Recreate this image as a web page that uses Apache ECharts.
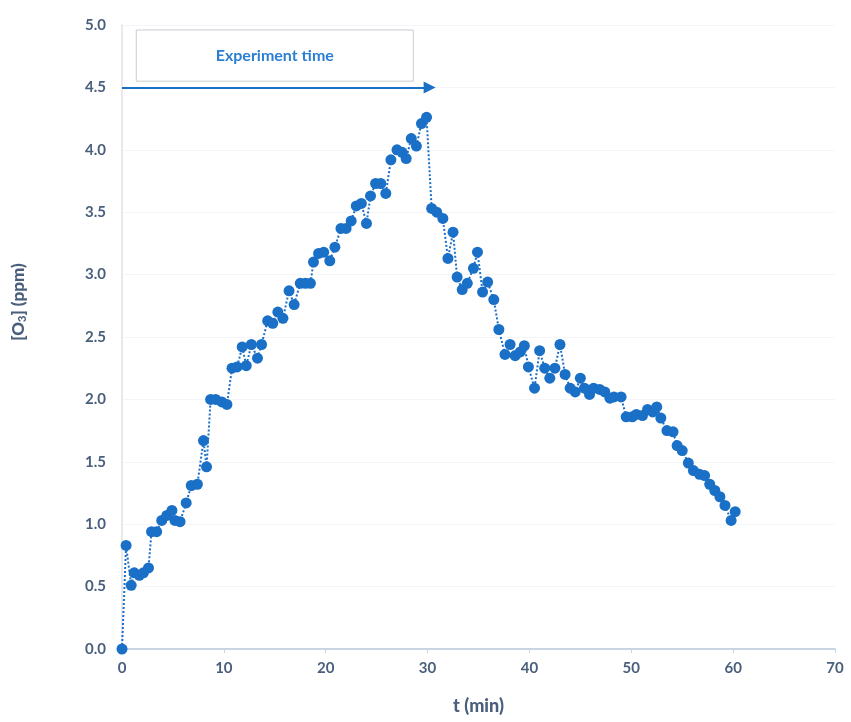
<!DOCTYPE html>
<html>
<head>
<meta charset="utf-8">
<script src="https://cdn.jsdelivr.net/npm/echarts@6/dist/echarts.min.js"></script>
<style>
html,body{margin:0;padding:0;background:#fff;}
#chart{width:851px;height:722px;}
</style>
</head>
<body>
<div id="chart"></div>
<script>
// time (min)
var times = [0.0,0.4,0.9,1.2,1.7,2.1,2.6,2.9,3.4,3.9,4.4,4.9,5.2,5.7,6.3,6.8,7.4,8.0,8.3,8.7,9.2,9.8,10.3,10.8,11.3,11.8,12.2,12.7,13.3,13.7,14.3,14.8,15.3,15.8,16.4,16.9,17.5,18.0,18.5,18.8,19.3,19.8,20.4,20.9,21.5,22.0,22.5,23.0,23.5,24.0,24.4,24.9,25.4,25.9,26.4,27.0,27.5,27.9,28.4,28.9,29.4,29.9,30.4,30.9,31.5,32.0,32.5,32.9,33.4,33.9,34.5,34.9,35.4,35.9,36.5,37.0,37.6,38.1,38.6,39.1,39.5,39.9,40.5,41.0,41.5,42.0,42.5,43.0,43.5,44.0,44.5,45.0,45.4,45.9,46.3,46.9,47.4,47.9,48.3,49.0,49.5,50.1,50.5,51.1,51.6,52.1,52.5,52.9,53.5,54.1,54.5,55.0,55.6,56.1,56.7,57.2,57.7,58.2,58.7,59.2,59.8,60.2];
// [O3] (ppm)
var ozone = [0.00,0.83,0.51,0.61,0.59,0.61,0.65,0.94,0.94,1.03,1.07,1.11,1.03,1.02,1.17,1.31,1.32,1.67,1.46,2.00,2.00,1.98,1.96,2.25,2.26,2.42,2.27,2.44,2.33,2.44,2.63,2.61,2.70,2.65,2.87,2.76,2.93,2.93,2.93,3.10,3.17,3.18,3.11,3.22,3.37,3.37,3.43,3.55,3.57,3.41,3.63,3.73,3.73,3.65,3.92,4.00,3.98,3.93,4.09,4.03,4.21,4.26,3.53,3.50,3.45,3.13,3.34,2.98,2.88,2.93,3.05,3.18,2.86,2.94,2.80,2.56,2.36,2.44,2.35,2.38,2.43,2.26,2.09,2.39,2.25,2.17,2.25,2.44,2.20,2.09,2.06,2.17,2.09,2.04,2.09,2.08,2.06,2.01,2.02,2.02,1.86,1.86,1.88,1.87,1.92,1.90,1.94,1.85,1.75,1.74,1.63,1.59,1.49,1.43,1.40,1.39,1.32,1.27,1.22,1.15,1.03,1.10];

var annotationText = 'Experiment time';
var boxStart = [1.4, 4.96];
var boxEnd = [28.6, 4.55];
var arrowLevel = 4.5;
var arrowStartT = 0;
var arrowEndT = 30.2;

var blue = '#1a6fc6';
var labelColor = '#4a5f7c';
var font = 'Lato';

var pts = times.map(function(t, i){ return [t, ozone[i]]; });

var chart = echarts.init(document.getElementById('chart'), null, {renderer:'canvas'});
chart.setOption({
  backgroundColor:'#ffffff',
  animation:false,
  grid:{left:122, right:16, top:25, bottom:73, containLabel:false},
  xAxis:{
    type:'value', min:0, max:70, interval:10,
    name:'t (min)', nameLocation:'middle', nameGap:48,
    nameTextStyle:{color:labelColor, fontFamily:font, fontWeight:900, fontSize:18},
    axisLine:{show:true, lineStyle:{color:'#c9d5e3', width:2}},
    axisTick:{show:true, length:4, lineStyle:{color:'#c9d5e3'}},
    axisLabel:{color:labelColor, fontFamily:font, fontWeight:'bold', fontSize:15, margin:12},
    splitLine:{show:false}
  },
  yAxis:{
    type:'value', min:0, max:5, interval:0.5,
    name:'[O{sub|3}] (ppm)', nameLocation:'middle', nameGap:94, nameRotate:90,
    nameTextStyle:{color:labelColor, fontFamily:font, fontWeight:900, fontSize:17, padding:[0,0,0,70],
      rich:{sub:{fontSize:11, fontFamily:font, fontWeight:900, color:labelColor, verticalAlign:'bottom', padding:[8,0,0,0]}}},
    axisLine:{show:true, lineStyle:{color:'#dfe2e6', width:1.5}},
    axisTick:{show:false},
    axisLabel:{color:labelColor, fontFamily:font, fontWeight:'bold', fontSize:15, margin:16,
      formatter:function(v){return v.toFixed(1);}},
    splitLine:{show:true, lineStyle:{color:'#f3f5f8', width:1}}
  },
  series:[{
    type:'line',
    data:pts,
    symbol:'circle',
    symbolSize:11,
    showSymbol:true,
    clip:false,
    itemStyle:{color:blue},
    lineStyle:{color:blue, width:2, type:'dotted'},
    markArea:{
      silent:true,
      itemStyle:{color:'#ffffff', borderColor:'#c8ccd2', borderWidth:1},
      label:{show:true, position:'inside', formatter:annotationText, color:'#2b7fd2',
        fontFamily:font, fontWeight:'bold', fontSize:16},
      data:[[{coord:boxStart},{coord:boxEnd}]]
    },
    markLine:{
      silent:true,
      symbol:['none','triangle'],
      symbolSize:[12,12],
      label:{show:false},
      lineStyle:{color:blue, width:2, type:'solid'},
      data:[[{coord:[arrowStartT, arrowLevel]},{coord:[arrowEndT, arrowLevel]}]]
    }
  }]
});
</script>
</body>
</html>
